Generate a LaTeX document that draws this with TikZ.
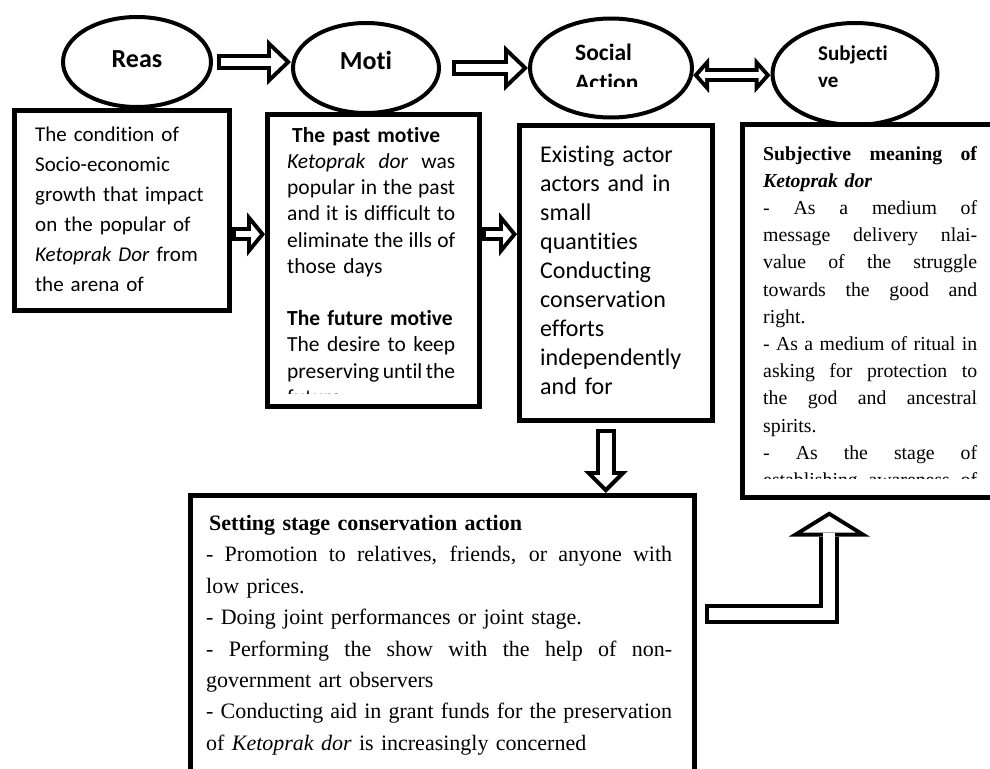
\documentclass[tikz,border=0pt]{standalone}
\usepackage{fontspec}
\setmainfont{Carlito}[Ligatures=NoCommon]
\newfontfamily\tnr{Liberation Serif}
\usetikzlibrary{shapes.geometric,positioning,arrows.meta}
% one justified line of a given width
\newcommand{\jl}[2]{\leavevmode\hbox to #1{\spaceskip=\fontdimen2\font plus 1fil minus .08em\xspaceskip=\spaceskip\relax #2}}
\tikzset{
box/.style={draw, line width=4.5pt, anchor=north west, inner sep=0pt},
oval/.style={draw, ellipse, line width=4pt, inner sep=0pt},
lbl/.style={inner sep=0pt, font=\bfseries\fontsize{26}{30}\selectfont},
txt/.style={anchor=north west, inner sep=0pt, align=left},
outer/.style args={#1/#2/#3}{line width=#1, -{Triangle[length=#2, width=#3, line width=0pt]}},
inner/.style args={#1/#2/#3/#4}{white, line width=#1, -{Triangle[length=#2, width=#3, line width=0pt]}, shorten >=#4, shorten <=4pt},
outertwo/.style args={#1/#2/#3}{line width=#1, {Triangle[length=#2, width=#3, line width=0pt]}-{Triangle[length=#2, width=#3, line width=0pt]}},
innertwo/.style args={#1/#2/#3/#4}{white, line width=#1, {Triangle[length=#2, width=#3, line width=0pt]}-{Triangle[length=#2, width=#3, line width=0pt]}, shorten >=#4, shorten <=#4},
}

\begin{document}
\begin{tikzpicture}[x=1pt, y=-1pt]
    \useasboundingbox (0,0) rectangle (990,768);
    \clip (0,0) rectangle (990,768);

    % the five boxes
    \node[box, minimum width=215pt, minimum height=200pt] (b1) at (12,108) {};
    \node[box, minimum width=212pt, minimum height=292pt] (b2) at (265,112) {};
    \node[box, minimum width=193pt, minimum height=295pt] (b3) at (517,123) {};
    \node[box, minimum width=262pt, minimum height=373pt] (b4) at (740,122) {};
    \node[box, minimum width=504pt, minimum height=290pt] (b5) at (188,493) {};

    % the four ovals
    \node[oval, minimum width=148pt, minimum height=90pt] (reas) at (137,62) {};
    \node[oval, minimum width=146pt, minimum height=90pt] (moti) at (366,68) {};
    \node[oval, minimum width=162pt, minimum height=99pt] (social) at (611,68) {};
    \node[oval, minimum width=165pt, minimum height=102pt] (subj) at (855,74) {};

    \node[lbl] (reasl) at ([yshift=3pt]reas) {Reas};
    \node[lbl] (motil) at ([yshift=8pt]moti) {Moti};
    \begin{scope}
        \clip (560,30) rectangle (690,86);
        \node[lbl, anchor=north west, align=left, font=\bfseries\fontsize{23.5}{30}\selectfont] (sociall) at (575,44) {Social\\Action};
    \end{scope}
    \node[lbl, anchor=north west, align=left, font=\bfseries\fontsize{21}{27}\selectfont] (subjl) at (818,46) {Subjecti\\ve};

    % texts in the boxes
    \node[txt, text width=185pt, font=\fontsize{21}{30}\selectfont, below right=19pt and 23pt of b1.north west] (t1)
        {The condition of\\ Socio-economic\\ growth that impact\\ on the popular of\\ \textit{Ketoprak Dor} from\\ the arena of};

    \begin{scope}
        \clip (b2.north west) rectangle ([yshift=15pt]b2.south east);
        \node[txt, text width=168pt, font=\fontsize{21.5}{26.2}\selectfont, below right=15pt and 22pt of b2.north west] (t2)
            {\hspace*{5pt}\textbf{The past motive}\\ \jl{168pt}{\textit{Ketoprak dor} was}\\ \jl{168pt}{popular in the past}\\
             \jl{168pt}{and it is difficult to}\\ \jl{168pt}{eliminate the ills of}\\ those days\\[26.2pt]
             \textbf{The future motive}\\ \jl{168pt}{The desire to keep}\\ \jl{168pt}{preserving until the}\\ future};
    \end{scope}

    \node[txt, text width=180pt, font=\fontsize{24}{29}\selectfont, below right=23pt and 23pt of b3.north west] (t3)
        {Existing actor\\ actors and in\\ small\\ quantities\\ Conducting\\ conservation\\ efforts\\ independently\\ and for};

    \begin{scope}
        \clip (b4.north west) rectangle ([yshift=21pt]b4.south east);
        \node[txt, text width=214pt, font=\tnr\fontsize{19.8}{27.2}\selectfont, below right=24pt and 23pt of b4.north west] (t4)
            {\jl{214pt}{\textbf{Subjective meaning of}}\\ \textbf{\textit{Ketoprak dor}}\\ \jl{214pt}{- As a medium of}\\
             \jl{214pt}{message delivery nlai-}\\ \jl{214pt}{value of the struggle}\\ \jl{214pt}{towards the good and}\\ right.\\
             \jl{214pt}{- As a medium of ritual in}\\ \jl{214pt}{asking for protection to}\\ \jl{214pt}{the god and ancestral}\\ spirits.\\
             \jl{214pt}{- As the stage of}\\ \jl{214pt}{establishing awareness of}};
    \end{scope}

    \node[txt, text width=466pt, font=\tnr\fontsize{22}{31.4}\selectfont, below right=22pt and 18pt of b5.north west] (t5)
        {\hspace*{3pt}\textbf{Setting stage conservation action}\\
         \jl{466pt}{- Promotion to relatives, friends, or anyone with}\\ low prices.\\
         - Doing joint performances or joint stage.\\
         \jl{466pt}{- Performing the show with the help of non-}\\ government art observers\\
         \jl{466pt}{- Conducting aid in grant funds for the preservation}\\
         of \textit{Ketoprak dor} is increasingly concerned};

    % hollow arrows
    \draw[outer=16pt/24pt/46pt, shorten <=4pt] (reas.east) -- (reas.east -| moti.west);
    \draw[inner=8pt/14.2pt/27pt/5.8pt, shorten <=8pt] (reas.east) -- (reas.east -| moti.west);

    \draw[outer=16pt/24pt/46pt, shorten <=11pt] (moti.east) -- (social.west);
    \draw[inner=8pt/14.2pt/27pt/5.8pt, shorten <=15pt] (moti.east) -- (social.west);

    \draw[outertwo=14pt/16pt/36pt] (social.-5) -- (social.-5 -| subj.west);
    \draw[innertwo=6pt/6.6pt/15pt/5.4pt] (social.-5) -- (social.-5 -| subj.west);

    \coordinate (c1) at ([yshift=-24pt]b1.east);
    \draw[outer=14pt/18pt/44pt] (c1) -- (c1 -| b2.west);
    \draw[inner=6pt/8.8pt/21.5pt/5.2pt] (c1) -- (c1 -| b2.west);

    \coordinate (c2) at ([yshift=26pt]b2.east);
    \draw[outer=14pt/18pt/44pt] (c2) -- (c2 -| b3.west);
    \draw[inner=6pt/8.8pt/21.5pt/5.2pt] (c2) -- (c2 -| b3.west);

    \coordinate (c3) at ([xshift=-10pt]b3.south);
    \draw[outer=20pt/22pt/44pt, shorten <=6pt] (c3) -- (c3 |- b5.north);
    \draw[inner=12pt/12.2pt/24pt/5.8pt, shorten <=10pt] (c3) -- (c3 |- b5.north);

    \coordinate (c4) at ([xshift=8pt, yshift=26pt]b5.east);
    \coordinate (c5) at ([xshift=-44pt]b4.south);
    \draw[outer=20pt/25pt/81pt, shorten >=12pt] (c4) -| (c5);
    \draw[inner=12pt/16.3pt/52.8pt/16.7pt] (c4) -| (c5);

\end{tikzpicture}
\end{document}
